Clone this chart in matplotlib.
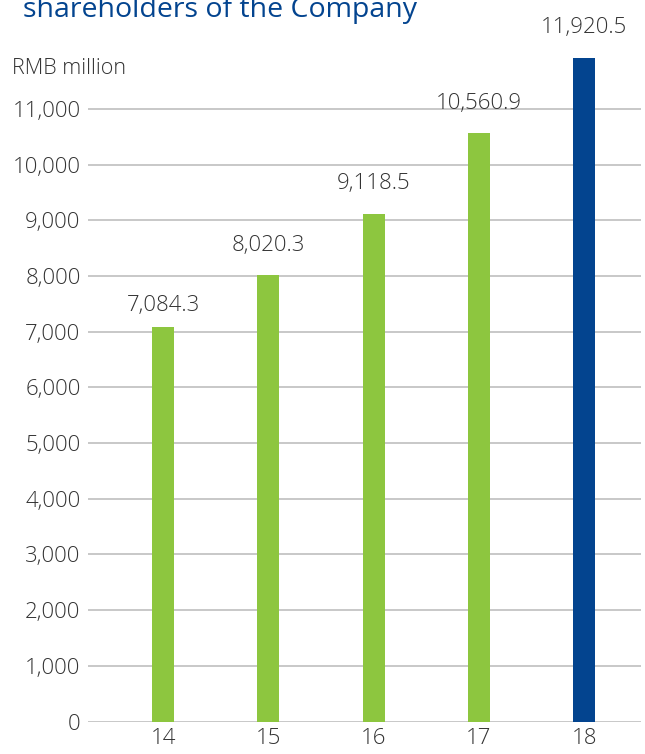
import matplotlib
matplotlib.use("Agg")
import matplotlib.pyplot as plt

years = ["14", "15", "16", "17", "18"]
values = [7084.3, 8020.3, 9118.5, 10560.9, 11920.5]
value_labels = ["7,084.3", "8,020.3", "9,118.5", "10,560.9", "11,920.5"]
yticks = list(range(0, 12000, 1000))
ytick_labels = [f"{v:,}" for v in yticks]

GREEN = "#8DC63F"
BLUE = "#03448F"
TEXT = "#333333"
GRID = "#c4c4c4"

plt.rcParams['font.family'] = ['Open Sans', 'DejaVu Sans']
W_ = 'light'

W, H = 645, 754
fig = plt.figure(figsize=(W / 100, H / 100), dpi=100)
ax_left, ax_right = 87.5 / W, 641 / W
ax_bottom = 1 - 721.5 / H
ax_top = 1 - 53.1 / H
ax = fig.add_axes([ax_left, ax_bottom, ax_right - ax_left, ax_top - ax_bottom])

x = list(range(len(years)))
colors = [GREEN] * (len(years) - 1) + [BLUE]
ax.bar(x, values, width=0.209, color=colors, zorder=3)

# gap (in pixels) between bar top and label baseline, as in the reference
label_gaps_px = [16, 24, 25, 24, 25]
for xi, v, lab, g in zip(x, values, value_labels, label_gaps_px):
    ax.annotate(lab, (xi, v), xytext=(0, g * 0.72), textcoords='offset points',
                ha='center', va='baseline', fontsize=16, color=TEXT, fontweight=W_)

ax.set_xlim(-0.72, 4.54)
ax.set_ylim(0, 12000)
ax.set_yticks(yticks)
ax.set_yticklabels(ytick_labels, fontsize=16, color=TEXT, fontweight=W_)
ax.set_xticks(x)
ax.set_xticklabels(years, fontsize=16, color=TEXT, fontweight=W_)
ax.tick_params(axis='both', length=0)
ax.tick_params(axis='y', pad=5)
ax.tick_params(axis='x', pad=5)
ax.grid(axis='y', color=GRID, linewidth=1.3, zorder=0)
for s in ax.spines.values():
    s.set_visible(False)

fig.text(12 / W, 1 - 74 / H, "RMB million", fontsize=15.5, color=TEXT, ha='left',
         va='baseline', fontweight=W_)
fig.text(23 / W, 1 - 17 / H, "shareholders of the Company", fontsize=20.5, color=BLUE,
         ha='left', va='baseline', fontweight='normal')

fig.savefig("out.png", dpi=100)
